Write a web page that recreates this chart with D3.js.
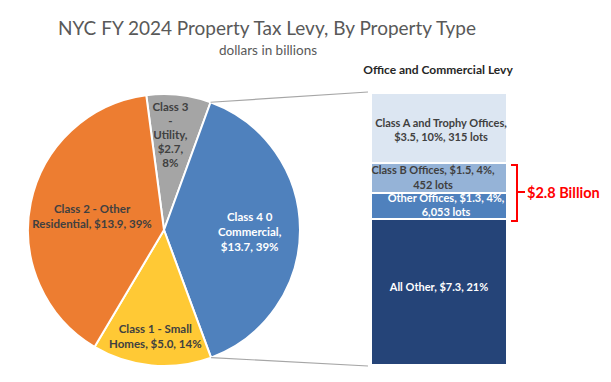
<!DOCTYPE html>
<html>
<head>
<meta charset="utf-8">
<script src="https://cdn.jsdelivr.net/npm/d3@7"></script>
<style>
  html, body { margin: 0; padding: 0; background: #fff; }
  svg { display: block; font-family: Lato, "Open Sans", sans-serif; }
</style>
</head>
<body>
<svg id="chart" width="611" height="382"></svg>
<script>
// ---- Data ----
const pieCategories = ["Class 3 - Utility", "Class 4 0 Commercial", "Class 1 - Small Homes", "Class 2 - Other Residential"];
const pieValues = [2.7, 13.7, 5.0, 13.9];
const piePercents = ["8%", "39%", "14%", "39%"];
const pieLabelLines = [
  ["Class 3", "-", "Utility,", "$2.7,", "8%"],
  ["Class 4 0", "Commercial,", "$13.7, 39%"],
  ["Class 1 - Small", "Homes, $5.0, 14%"],
  ["Class 2 - Other", "Residential, $13.9, 39%"]
];

const barCategories = ["Class A and Trophy Offices", "Class B Offices", "Other Offices", "All Other"];
const barValues = [3.5, 1.5, 1.3, 7.3];
const barLabelLines = [
  ["Class A and Trophy Offices,", "$3.5, 10%, 315 lots"],
  ["Class B Offices, $1.5, 4%,", "452 lots"],
  ["Other Offices, $1.3, 4%,", "6,053 lots"],
  ["All Other, $7.3, 21%"]
];
const bracketLabel = "$2.8 Billion";

// ---- Styles / layout ----
const pieColors = ["#A5A5A5", "#4F81BD", "#FFC935", "#ED7D31"];
const pieTextColors = ["#404040", "#ffffff", "#404040", "#404040"];
const pieLabelRadius = [0.70, 0.63, 0.78, 0.54];
const pieLabelShift = [[-4, 0], [0, 2], [1, 1], [0, 1]];
const barColors = ["#DCE6F2", "#95B3D7", "#4F81BD", "#254478"];
const barTextColors = ["#404040", "#404040", "#ffffff", "#ffffff"];
const barLabelShift = [[2, 2], [-6, -1], [7, -1], [0, -5]];
const barLineHeight = [14, 15, 14, 14];

const svg = d3.select("#chart");

// Title
svg.append("text").attr("x", 267).attr("y", 35).attr("text-anchor", "middle")
  .attr("font-size", 19).attr("fill", "#595959").text("NYC FY 2024 Property Tax Levy, By Property Type");
svg.append("text").attr("x", 268).attr("y", 55).attr("text-anchor", "middle")
  .attr("font-size", 13.5).attr("fill", "#595959").text("dollars in billions");

// Pie
const cx = 164, cy = 230, R = 136;
const start = -7.5 * Math.PI / 180;
const pie = d3.pie().sort(null).startAngle(start).endAngle(start + 2 * Math.PI);
const arcs = pie(pieValues);
const arc = d3.arc().innerRadius(0).outerRadius(R);
const g = svg.append("g").attr("transform", `translate(${cx},${cy})`);

// Connector lines (from Class 4 slice edges to the bar)
const barX0 = 371, barX1 = 507;
const y = d3.scaleLinear().domain([0, d3.sum(barValues)]).range([93, 365]);
const c4 = arcs[1];
const pt = a => [cx + R * Math.sin(a), cy - R * Math.cos(a)];
const pTop = pt(c4.startAngle), pBot = pt(c4.endAngle);
svg.append("line").attr("x1", pTop[0]).attr("y1", pTop[1]).attr("x2", barX0 - 3).attr("y2", y(0) - 1)
  .attr("stroke", "#A6A6A6").attr("stroke-width", 1.2);
svg.append("line").attr("x1", pBot[0]).attr("y1", pBot[1]).attr("x2", barX0 - 3).attr("y2", y(d3.sum(barValues)) + 1)
  .attr("stroke", "#A6A6A6").attr("stroke-width", 1.2);

g.selectAll("path.slice").data(arcs).join("path").attr("class", "slice")
  .attr("d", arc).attr("fill", (d, i) => pieColors[i])
  .attr("stroke", "#fff").attr("stroke-width", 2).attr("stroke-linejoin", "round");

arcs.forEach((d, i) => {
  const mid = (d.startAngle + d.endAngle) / 2;
  const r = R * pieLabelRadius[i];
  const lx = r * Math.sin(mid) + pieLabelShift[i][0], ly = -r * Math.cos(mid) + pieLabelShift[i][1];
  const lines = pieLabelLines[i];
  const lh = i === 0 ? 14 : 15;
  const t = g.append("text").attr("text-anchor", "middle").attr("font-size", 11.5)
    .attr("font-weight", "bold").attr("fill", pieTextColors[i]);
  lines.forEach((s, k) => {
    t.append("tspan").attr("x", lx).attr("y", ly + (k - (lines.length - 1) / 2) * lh + 4).text(s);
  });
});

// Bar
svg.append("text").attr("x", 438).attr("y", 74).attr("text-anchor", "middle")
  .attr("font-size", 12).attr("font-weight", "bold").attr("fill", "#262626").text("Office and Commercial Levy");

const stacked = [];
let acc = 0;
barValues.forEach((v, i) => { stacked.push({ i, y0: acc, y1: acc + v }); acc += v; });

svg.selectAll("rect.seg").data(stacked).join("rect").attr("class", "seg")
  .attr("x", barX0).attr("width", barX1 - barX0)
  .attr("y", d => y(d.y0)).attr("height", d => y(d.y1) - y(d.y0))
  .attr("fill", d => barColors[d.i]).attr("stroke", "#fff").attr("stroke-width", 2);

stacked.forEach(d => {
  const lines = barLabelLines[d.i];
  const mx = (barX0 + barX1) / 2 + barLabelShift[d.i][0];
  const my = (y(d.y0) + y(d.y1)) / 2 + barLabelShift[d.i][1];
  const lh = barLineHeight[d.i];
  const t = svg.append("text").attr("text-anchor", "middle").attr("font-size", 11)
    .attr("font-weight", "bold").attr("fill", barTextColors[d.i]);
  lines.forEach((s, k) => {
    t.append("tspan").attr("x", mx).attr("y", my + (k - (lines.length - 1) / 2) * lh + 4).text(s);
  });
});

// Bracket around Class B + Other Offices
const bTop = y(stacked[1].y0) + 2, bBot = y(stacked[2].y1) + 2;
const bMid = (bTop + bBot) / 2 - 1;
const bx = 511, bx2 = 517;
svg.append("path")
  .attr("d", `M${bx},${bTop} H${bx2} V${bBot} H${bx} M${bx2},${bMid} H${bx2 + 8}`)
  .attr("fill", "none").attr("stroke", "#FF0000").attr("stroke-width", 2);
svg.append("text").attr("x", 527).attr("y", bMid + 5.5).attr("font-size", 14.5)
  .attr("font-weight", "bold").attr("fill", "#FF0000").text(bracketLabel);
</script>
</body>
</html>
